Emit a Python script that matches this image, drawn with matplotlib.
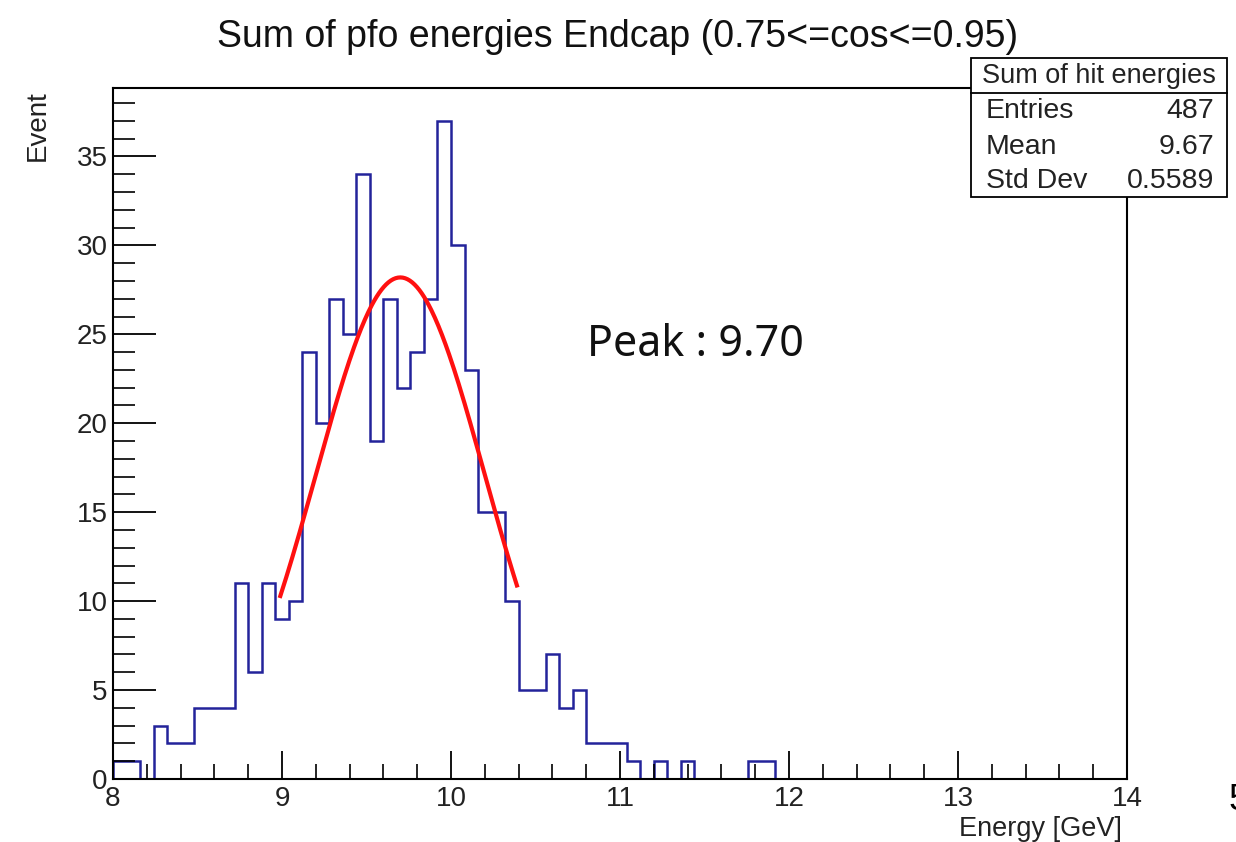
import numpy as np
import matplotlib
matplotlib.use("Agg")
import matplotlib.pyplot as plt
from matplotlib.ticker import MultipleLocator

plt.rcParams['font.family'] = ['Liberation Sans', 'DejaVu Sans']

# ---- data ----
bin_lo, bin_hi, n_bins = 8.0, 14.0, 75
counts = [1, 1, 0, 3, 2, 2, 4, 4, 4, 11, 6, 11, 9, 10, 24, 20, 27, 25, 34, 19,
          27, 22, 24, 27, 37, 30, 23, 15, 15, 10, 5, 5, 7, 4, 5, 2, 2, 2, 1, 0,
          1, 0, 1, 0, 0, 0, 0, 1, 1] + [0] * 26
fit_peak, fit_amp, fit_sigma = 9.70, 28.2, 0.50
fit_range = (8.99, 10.39)
title = "Sum of pfo energies Endcap (0.75<=cos<=0.95)"
stats_title = "Sum of hit energies"
stats_names = ["Entries", "Mean", "Std Dev"]
stats_vals = ["487", "9.67", "0.5589"]
peak_label = "Peak : 9.70"

fig = plt.figure(figsize=(12.36, 8.42), dpi=100)
ax = fig.add_axes([113/1236, 1-779/842, (1127-113)/1236, (779-88)/842])

edges = np.linspace(bin_lo, bin_hi, n_bins + 1)
ax.stairs(counts, edges, color="#23239a", linewidth=1.8, baseline=0, zorder=1)

xf = np.linspace(fit_range[0], fit_range[1], 200)
yf = fit_amp * np.exp(-0.5 * ((xf - fit_peak) / fit_sigma) ** 2)
ax.plot(xf, yf, color="#ff1010", linewidth=3, zorder=3)

ax.set_xlim(bin_lo, bin_hi)
ax.set_ylim(0, 1.05 * max(counts))
ax.xaxis.set_major_locator(MultipleLocator(1))
ax.xaxis.set_minor_locator(MultipleLocator(0.2))
ax.yaxis.set_major_locator(MultipleLocator(5))
ax.yaxis.set_minor_locator(MultipleLocator(1))
ax.tick_params(axis='both', which='both', direction='in', color='black', labelsize=20,
               labelcolor='#222222')
ax.tick_params(axis='x', which='major', length=20, width=1.3, pad=5)
ax.tick_params(axis='x', which='minor', length=11, width=1.2)
ax.tick_params(axis='y', which='major', length=31, width=1.3, pad=4)
ax.tick_params(axis='y', which='minor', length=16, width=1.2)
for s in ax.spines.values():
    s.set_linewidth(1.5)
    s.set_zorder(4)

fig.text(618/1236, 1-37/842, title, ha='center', va='center', fontsize=27, color='#111111')
fig.text(1122/1236, 1-829/842, "Energy [GeV]", ha='right', va='center', fontsize=19.5,
         color='#222222')
fig.text(38/1236, 1-90/842, "Event", ha='center', va='top', rotation=90, fontsize=20,
         color='#222222')
fig.text(587/1236, 1-345/842, peak_label, ha='left', va='center', fontsize=31,
         family=['Noto Sans', 'DejaVu Sans'], fontweight='light', color='#111111')
fig.text(1228/1236, 1-800/842, "5", ha='left', va='center', fontsize=26)

# stats box
bx0, bx1, by0, by1, bh = 971, 1227, 58, 197, 93
box = plt.Rectangle((bx0/1236, 1-by1/842), (bx1-bx0)/1236, (by1-by0)/842,
                    transform=fig.transFigure, facecolor='white', edgecolor='black',
                    linewidth=1.3, zorder=10)
fig.add_artist(box)
fig.add_artist(plt.Line2D([bx0/1236, bx1/1236], [1-bh/842, 1-bh/842],
                          transform=fig.transFigure, color='black', linewidth=1.3, zorder=11))
fig.text((bx0+bx1)/2/1236, 1-76/842, stats_title, ha='center', va='center',
         fontsize=19.5, zorder=12, color='#222222')
row_y = [111, 147, 181]
for name, val, yy in zip(stats_names, stats_vals, row_y):
    fig.text(986/1236, 1-yy/842, name, ha='left', va='center', fontsize=20.5, zorder=12,
             color='#222222')
    fig.text(1214/1236, 1-yy/842, val, ha='right', va='center', fontsize=20.5, zorder=12,
             color='#222222')

fig.savefig("out.png", dpi=100, facecolor='white')
